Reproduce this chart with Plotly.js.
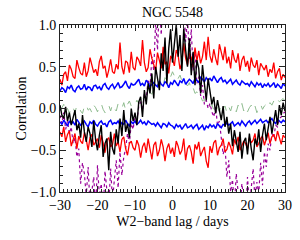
<!DOCTYPE html>
<html>
<head>
<meta charset="utf-8">
<script src="https://cdn.plot.ly/plotly-3.0.1.min.js"></script>
<style>html,body{margin:0;padding:0;background:#fff;}#chart{width:300px;height:240px;}</style>
</head>
<body>
<div id="chart"></div>
<script>
// Lag grid: -30 .. 30 days in 0.5-day steps (121 samples)
const lagStart = -30, lagStep = 0.5, nLag = 121;
const lags = [];
for (let i = 0; i < nLag; i++) lags.push(lagStart + i * lagStep);

const redUpper = [
0.35,0.28,0.41,0.44,0.33,0.52,0.47,0.38,0.36,0.58,
0.49,0.42,0.40,0.55,0.38,0.45,0.61,0.52,0.43,0.47,
0.39,0.56,0.63,0.48,0.51,0.37,0.46,0.59,0.44,0.42,
0.53,0.47,0.79,0.50,0.41,0.57,0.55,0.43,0.68,0.49,
0.46,0.62,0.58,0.51,0.82,0.55,0.44,0.49,0.71,0.60,
0.52,0.45,0.67,0.58,0.48,0.74,0.53,0.56,0.42,0.63,
0.59,0.51,0.70,0.64,0.47,0.55,0.78,0.60,0.52,0.66,
0.61,0.50,0.73,0.57,0.69,0.54,0.62,0.80,0.58,0.86,
0.63,0.55,0.71,0.60,0.52,0.77,0.66,0.58,0.74,0.54,
0.62,0.48,0.70,0.59,0.55,0.66,0.45,0.58,0.63,0.50,
0.57,0.44,0.61,0.52,0.49,0.58,0.40,0.54,0.50,0.46,
0.52,0.38,0.47,0.43,0.55,0.36,0.44,0.48,0.34,0.41,
0.37];

const redLower = [
-0.28,-0.34,-0.22,-0.40,-0.31,-0.27,-0.45,-0.36,-0.30,-0.48,
-0.33,-0.39,-0.42,-0.29,-0.37,-0.50,-0.35,-0.31,-0.44,-0.40,
-0.36,-0.47,-0.32,-0.41,-0.53,-0.38,-0.35,-0.46,-0.43,-0.30,
-0.45,-0.40,-0.52,-0.37,-0.34,-0.48,-0.56,-0.42,-0.39,-0.47,
-0.50,-0.38,-0.44,-0.59,-0.46,-0.41,-0.53,-0.36,-0.49,-0.61,
-0.44,-0.40,-0.57,-0.50,-0.37,-0.46,-0.63,-0.48,-0.42,-0.54,
-0.47,-0.58,-0.39,-0.45,-0.55,-0.50,-0.36,-0.62,-0.48,-0.44,
-0.52,-0.66,-0.43,-0.49,-0.40,-0.57,-0.51,-0.46,-0.63,-0.71,
-0.45,-0.53,-0.41,-0.38,-0.56,-0.47,-0.44,-0.36,-0.52,-0.49,
-0.40,-0.46,-0.55,-0.37,-0.43,-0.34,-0.50,-0.45,-0.39,-0.42,
-0.48,-0.35,-0.41,-0.38,-0.30,-0.46,-0.42,-0.36,-0.33,-0.44,
-0.37,-0.29,-0.42,-0.34,-0.31,-0.39,-0.27,-0.36,-0.43,-0.32,
-0.35];

const blueUpper = [
0.21,0.25,0.23,0.19,0.26,0.24,0.28,0.22,0.20,0.25,
0.27,0.23,0.24,0.29,0.22,0.26,0.25,0.21,0.27,0.28,
0.24,0.26,0.22,0.28,0.30,0.25,0.23,0.27,0.29,0.24,
0.27,0.31,0.25,0.26,0.29,0.33,0.27,0.24,0.30,0.28,
0.29,0.32,0.35,0.28,0.30,0.27,0.34,0.31,0.26,0.29,
0.31,0.28,0.26,0.33,0.29,0.27,0.32,0.30,0.25,0.31,
0.29,0.34,0.30,0.27,0.33,0.31,0.36,0.29,0.32,0.35,
0.33,0.30,0.36,0.34,0.31,0.38,0.35,0.32,0.37,0.34,
0.36,0.33,0.39,0.34,0.31,0.35,0.37,0.32,0.34,0.30,
0.33,0.35,0.29,0.32,0.34,0.30,0.28,0.33,0.31,0.29,
0.30,0.27,0.32,0.29,0.26,0.31,0.28,0.30,0.25,0.29,
0.27,0.30,0.26,0.28,0.31,0.25,0.29,0.27,0.24,0.30,
0.27];

const blueLower = [
-0.16,-0.19,-0.14,-0.17,-0.21,-0.15,-0.18,-0.16,-0.20,-0.13,
-0.17,-0.20,-0.18,-0.15,-0.19,-0.22,-0.16,-0.18,-0.14,-0.19,
-0.21,-0.17,-0.15,-0.19,-0.18,-0.22,-0.16,-0.14,-0.19,-0.17,
-0.18,-0.15,-0.20,-0.17,-0.19,-0.14,-0.18,-0.21,-0.16,-0.18,
-0.15,-0.19,-0.17,-0.14,-0.18,-0.16,-0.20,-0.15,-0.17,-0.19,
-0.18,-0.21,-0.17,-0.20,-0.23,-0.18,-0.19,-0.22,-0.17,-0.20,
-0.21,-0.24,-0.19,-0.22,-0.20,-0.25,-0.21,-0.18,-0.23,-0.22,
-0.20,-0.24,-0.21,-0.19,-0.25,-0.22,-0.20,-0.26,-0.21,-0.23,
-0.19,-0.22,-0.20,-0.24,-0.18,-0.21,-0.23,-0.19,-0.20,-0.17,
-0.20,-0.18,-0.16,-0.21,-0.19,-0.17,-0.20,-0.15,-0.18,-0.21,
-0.17,-0.15,-0.19,-0.16,-0.14,-0.18,-0.16,-0.13,-0.17,-0.15,
-0.14,-0.17,-0.15,-0.12,-0.16,-0.18,-0.13,-0.15,-0.17,-0.14,
-0.16];

const ccf = [
0.04,-0.08,-0.12,0.02,-0.15,-0.05,-0.20,-0.10,-0.02,-0.26,
-0.18,-0.35,-0.08,-0.28,-0.40,-0.22,-0.30,-0.46,-0.15,-0.38,
-0.50,-0.32,-0.20,-0.58,-0.42,-0.36,-0.74,-0.28,-0.48,-0.55,
-0.25,-0.42,-0.12,-0.33,-0.02,-0.28,-0.18,-0.35,0.00,-0.15,
-0.05,-0.20,0.08,0.14,-0.10,0.22,0.05,0.30,0.18,0.42,
0.12,0.50,0.38,0.22,0.66,0.45,0.85,0.30,0.72,0.95,
0.55,0.78,1.00,0.62,0.88,0.45,0.96,0.70,0.50,0.84,
0.40,0.68,0.28,0.58,0.48,0.18,0.52,0.30,0.10,0.36,
0.20,0.05,0.14,-0.06,0.10,-0.02,-0.14,0.03,-0.22,-0.10,
-0.30,-0.18,-0.45,-0.26,-0.38,-0.52,-0.28,-0.60,-0.40,-0.35,
-0.55,-0.30,-0.48,-0.62,-0.36,-0.44,-0.25,-0.52,-0.32,-0.18,
-0.38,-0.22,-0.10,-0.30,-0.15,-0.02,-0.20,0.04,-0.08,0.07,
-0.03];

const acf = [
-0.03,0.02,0.05,-0.04,0.00,-0.06,0.03,0.01,-0.05,0.04,
0.02,-0.03,-0.06,0.03,0.05,-0.02,0.00,-0.05,0.04,0.01,
-0.04,0.03,0.06,-0.01,-0.05,0.02,0.04,-0.03,0.05,0.00,
-0.03,0.06,0.02,0.00,0.07,-0.02,0.05,0.09,0.03,0.06,
0.04,0.10,0.06,0.13,0.09,0.16,0.11,0.14,0.20,0.17,
0.24,0.20,0.29,0.26,0.33,0.28,0.37,0.34,0.41,0.38,
0.44,0.39,0.42,0.36,0.40,0.33,0.35,0.30,0.27,0.31,
0.22,0.25,0.18,0.20,0.13,0.15,0.09,0.11,0.05,0.07,
0.02,0.05,-0.02,0.04,0.01,-0.04,0.06,0.00,0.03,-0.05,
0.02,-0.03,0.05,0.01,-0.04,0.04,-0.01,0.06,-0.03,0.02,
-0.04,0.01,0.04,-0.02,0.03,-0.05,0.02,0.05,-0.01,0.03,
0.05,0.01,0.07,0.04,0.09,0.06,0.11,0.08,0.10,0.12,
0.09];

const dotted = [
-0.08,-0.18,-0.05,-0.25,-0.15,-0.30,-0.22,-0.42,-0.35,-0.58,
-0.48,-0.90,-0.65,-0.78,-1.05,-0.70,-1.15,-0.95,-0.82,-1.20,
-0.68,-1.05,-0.90,-1.25,-0.75,-0.98,-1.18,-0.72,-1.10,-0.85,
-0.62,-0.95,-0.52,-0.80,-0.58,-0.48,-0.30,-0.42,-0.18,-0.25,
-0.08,-0.15,0.02,0.08,-0.02,0.18,0.12,0.35,0.25,0.62,
0.45,1.05,0.70,1.25,0.88,1.45,1.15,1.60,1.30,1.55,
1.75,1.45,1.65,1.30,1.50,1.05,1.35,0.80,1.10,0.58,
0.95,0.45,0.70,0.30,0.38,0.15,0.28,0.05,0.10,0.00,
0.06,-0.04,-0.10,0.02,-0.20,-0.15,-0.38,-0.55,-0.45,-0.82,
-0.62,-1.00,-0.85,-1.18,-0.78,-1.08,-1.22,-0.90,-1.05,-1.28,
-0.82,-1.15,-0.95,-0.72,-1.10,-0.88,-1.02,-0.65,-0.92,-0.52,
-0.70,-0.42,-0.50,-0.30,-0.35,-0.20,-0.22,-0.12,-0.10,-0.06,
-0.04];

const serif = 'Liberation Serif, Times New Roman, serif';

function tr(y, color, width, dash) {
  return {x: lags, y: y, type: 'scatter', mode: 'lines',
          line: {color: color, width: width, dash: dash || 'solid'},
          hoverinfo: 'skip', showlegend: false};
}

const data = [
  tr(acf, '#8fbc8f', 1, 'dash'),
  tr(dotted, '#990099', 1.2, 'dot'),
  tr(redUpper, '#ff0000', 1.3),
  tr(redLower, '#ff0000', 1.3),
  tr(blueUpper, '#0000ff', 1.5),
  tr(blueLower, '#0000ff', 1.5),
  tr(ccf, '#000000', 1.4)
];

const axisCommon = {
  showgrid: false, zeroline: false, showline: true, linecolor: '#222', linewidth: 1,
  mirror: 'ticks', ticks: 'inside', ticklen: 6, tickwidth: 1, tickcolor: '#222',
  tickfont: {family: serif, size: 14, color: '#000'}
};

const layout = {
  width: 300, height: 240,
  margin: {l: 60, r: 15, t: 25, b: 48},
  paper_bgcolor: '#fff', plot_bgcolor: '#fff',
  title: {text: 'NGC 5548', font: {family: serif, size: 14, color: '#000'},
          x: 0.575, xref: 'container', xanchor: 'center', y: 0.95, yref: 'container', yanchor: 'middle'},
  xaxis: Object.assign({}, axisCommon, {
    range: [-30, 30], tickmode: 'linear', tick0: -30, dtick: 10,
    minor: {dtick: 1, ticklen: 3, ticks: 'inside', tickcolor: '#222'},
    title: {text: 'W2\u2212band lag / days', font: {family: serif, size: 14, color: '#000'}, standoff: 4}
  }),
  yaxis: Object.assign({}, axisCommon, {
    range: [-1, 1], tickmode: 'linear', tick0: -1, dtick: 0.5, tickformat: '.1f',
    minor: {dtick: 0.1, ticklen: 3, ticks: 'inside', tickcolor: '#222'},
    title: {text: 'Correlation', font: {family: serif, size: 14, color: '#000'}, standoff: 0}
  })
};

Plotly.newPlot('chart', data, layout, {staticPlot: true, displayModeBar: false});
</script>
</body>
</html>
